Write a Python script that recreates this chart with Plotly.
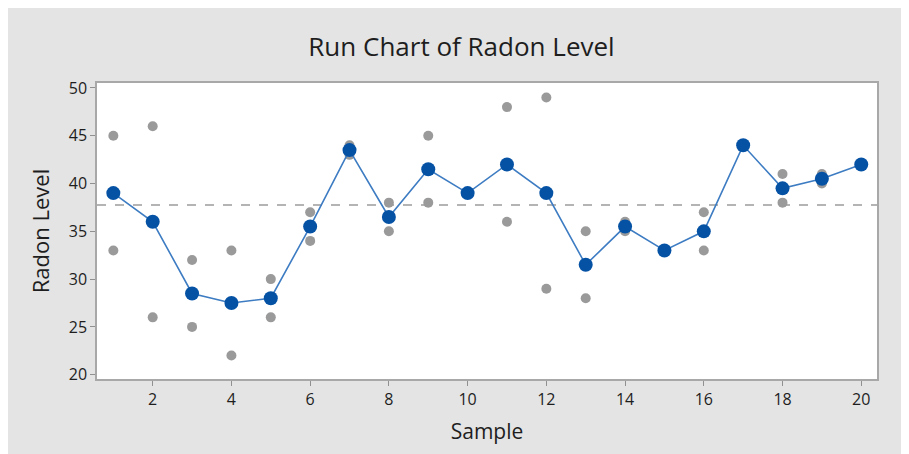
import numpy as np
import plotly.graph_objects as go

samples = list(range(1, 21))
obs_a = [45, 46, 32, 33, 30, 37, 44, 38, 45, 39, 48, 49, 35, 36, 33, 37, 44, 41, 41, 42]
obs_b = [33, 26, 25, 22, 26, 34, 43, 35, 38, 39, 36, 29, 28, 35, 33, 33, 44, 38, 40, 42]
means = [39, 36, 28.5, 27.5, 28, 35.5, 43.5, 36.5, 41.5, 39, 42, 39, 31.5, 35.5, 33, 35, 44, 39.5, 40.5, 42]
median_level = float(np.median(means))

x_ticks = [2, 4, 6, 8, 10, 12, 14, 16, 18, 20]
y_ticks = [20, 25, 30, 35, 40, 45, 50]

FONT = "Open Sans"
BG = "#e4e4e4"
FRAME = "#a8a8a8"
TXT = "#1e1e1e"

X_RANGE = [0.585, 20.4]

fig = go.Figure()

fig.add_trace(go.Scatter(
    x=X_RANGE, y=[median_level, median_level], mode="lines",
    line=dict(color="#b4b4b4", width=2, dash="dash"),
    hoverinfo="skip", showlegend=False))

fig.add_trace(go.Scatter(
    x=samples + samples, y=obs_a + obs_b, mode="markers",
    marker=dict(color="#9a9a9a", size=10),
    showlegend=False))

fig.add_trace(go.Scatter(
    x=samples, y=means, mode="lines+markers",
    line=dict(color="#3d7cc2", width=1.6),
    marker=dict(color="#0552a5", size=14),
    showlegend=False))

axis_common = dict(
    showgrid=False, zeroline=False, showline=True, linecolor=FRAME, linewidth=1.5,
    mirror=True, ticks="outside", ticklen=5, tickwidth=1, tickcolor="#909090",
    tickfont=dict(family=FONT, size=16, color=TXT),
)

fig.update_layout(
    width=901, height=446,
    paper_bgcolor=BG, plot_bgcolor="white",
    margin=dict(l=89, r=32, t=75, b=75),
    title=dict(text="Run Chart of Radon Level", x=0.5033, xanchor="center",
               y=0.912, yanchor="middle", xref="container", yref="container",
               font=dict(family=FONT, size=26, color=TXT)),
    xaxis=dict(range=X_RANGE, tickvals=x_ticks,
               title=dict(text="Sample", font=dict(family=FONT, size=21, color=TXT), standoff=15),
               **axis_common),
    yaxis=dict(range=[19.55, 50.52], tickvals=y_ticks,
               title=dict(text="Radon Level", font=dict(family=FONT, size=22, color=TXT), standoff=13),
               **axis_common),
)

fig.write_html("out.html")
